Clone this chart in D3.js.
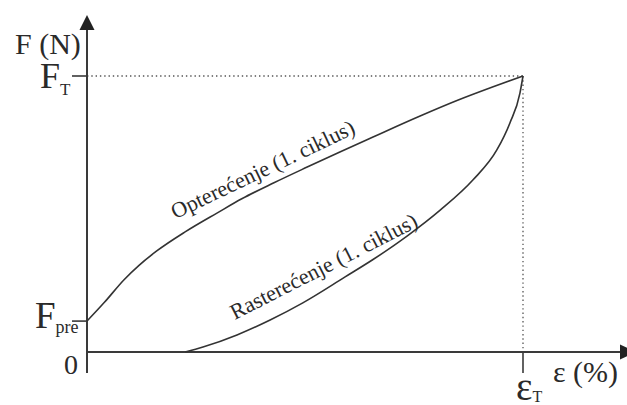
<!DOCTYPE html>
<html><head><meta charset="utf-8">
<script src="https://cdn.jsdelivr.net/npm/d3@7"></script>
<style>
html,body{margin:0;padding:0;background:#fff;}
svg{display:block;}
text{font-family:"Liberation Serif","Times New Roman",serif;fill:#2a2a2a;}
</style></head>
<body>
<svg id="chart" width="627" height="405"></svg>
<script>
// Normalised strain (ε/εT) and force (F/FT)
const loadEps   = [0, 0.040, 0.085, 0.120, 0.160, 0.225, 0.300, 0.355, 0.430, 0.505, 0.580, 0.656, 0.764, 0.850, 0.930, 1];
const loadF     = [0.112, 0.180, 0.262, 0.315, 0.366, 0.435, 0.505, 0.555, 0.614, 0.670, 0.725, 0.779, 0.855, 0.912, 0.960, 1];
const unloadEps = [0.225, 0.266, 0.344, 0.420, 0.495, 0.592, 0.656, 0.734, 0.810, 0.885, 0.940, 0.970, 0.993, 1];
const unloadF   = [0, 0.018, 0.062, 0.116, 0.178, 0.272, 0.335, 0.420, 0.514, 0.623, 0.732, 0.830, 0.938, 1];
const fPre = 0.112;
const fTop = 1;
const epsTop = 1;
const curveLabels = ["Opterećenje (1. ciklus)", "Rasterećenje (1. ciklus)"];

const svg = d3.select("#chart");
const x = d3.scaleLinear().domain([0, 1]).range([87, 523]);
const y = d3.scaleLinear().domain([0, 1]).range([352, 76]);
const axisColor = "#3a3a3a";

// dotted guides
svg.append("line").attr("x1", x(0)).attr("x2", x(epsTop)).attr("y1", y(fTop)).attr("y2", y(fTop))
  .attr("stroke", "#555").attr("stroke-width", 1.3).attr("stroke-dasharray", "1.4 2.9");
svg.append("line").attr("x1", x(epsTop)).attr("x2", x(epsTop)).attr("y1", y(fTop)).attr("y2", y(0))
  .attr("stroke", "#555").attr("stroke-width", 1.3).attr("stroke-dasharray", "1.4 2.9");

// axes
svg.append("line").attr("x1", x(0)).attr("x2", x(0)).attr("y1", 373).attr("y2", 28)
  .attr("stroke", axisColor).attr("stroke-width", 2);
svg.append("path").attr("d", `M${x(0)},15 L${x(0)-7.5},30 L${x(0)+7.5},30 Z`).attr("fill", "#222");
svg.append("line").attr("x1", x(0)).attr("x2", 622).attr("y1", y(0)).attr("y2", y(0))
  .attr("stroke", axisColor).attr("stroke-width", 2);
svg.append("path").attr("d", `M636,${y(0)} L620,${y(0)-7.5} L620,${y(0)+7.5} Z`).attr("fill", "#222");

// ticks
[fTop, fPre].forEach(v => {
  svg.append("line").attr("x1", 72).attr("x2", x(0)).attr("y1", y(v)).attr("y2", y(v))
    .attr("stroke", axisColor).attr("stroke-width", 1.6);
});
svg.append("line").attr("x1", x(epsTop)).attr("x2", x(epsTop)).attr("y1", y(0)).attr("y2", 373)
  .attr("stroke", axisColor).attr("stroke-width", 1.6);

// curves
const line = d3.line().x(d => x(d[0])).y(d => y(d[1])).curve(d3.curveMonotoneX);
svg.append("path").datum(d3.zip(loadEps, loadF)).attr("d", line)
  .attr("fill", "none").attr("stroke", "#333").attr("stroke-width", 1.6);
svg.append("path").datum(d3.zip(unloadEps, unloadF)).attr("d", line)
  .attr("fill", "none").attr("stroke", "#333").attr("stroke-width", 1.6);

// axis labels
svg.append("text").attr("x", 15).attr("y", 54).attr("font-size", 30).text("F (N)");
const ft = svg.append("text").attr("x", 40).attr("y", y(fTop) + 12);
ft.append("tspan").attr("font-size", 36).text("F");
ft.append("tspan").attr("font-size", 17).attr("dy", 7).text("T");
const fp = svg.append("text").attr("x", 35).attr("y", y(fPre) + 7);
fp.append("tspan").attr("font-size", 37).text("F");
fp.append("tspan").attr("font-size", 18).attr("dy", 5).text("pre");
svg.append("text").attr("x", 78).attr("y", 374).attr("text-anchor", "end").attr("font-size", 28).text("0");
const et = svg.append("text").attr("x", 516).attr("y", 400);
et.append("tspan").attr("font-size", 39).text("ε");
et.append("tspan").attr("font-size", 16).attr("dy", 2).text("T");
svg.append("text").attr("x", 553).attr("y", 382).attr("font-size", 30).text("ε (%)");

// curve labels
svg.append("text").attr("transform", "translate(266,176) rotate(-25.5)")
  .attr("text-anchor", "middle").attr("font-size", 22).text(curveLabels[0]);
svg.append("text").attr("transform", "translate(327,273) rotate(-27)")
  .attr("text-anchor", "middle").attr("font-size", 22).text(curveLabels[1]);
</script>
</body></html>
